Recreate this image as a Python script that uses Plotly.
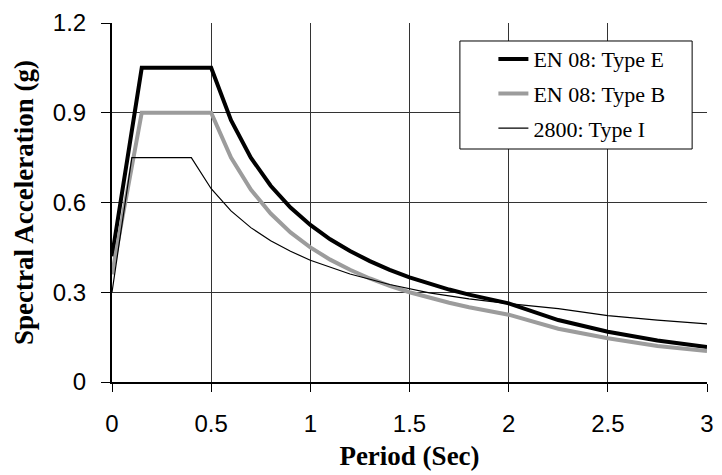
import plotly.graph_objects as go

# Type E (EN 08)
period_e = [0, 0.15, 0.5, 0.6, 0.7, 0.8, 0.9, 1.0, 1.1, 1.2, 1.3, 1.4, 1.5, 1.6, 1.7, 1.8, 1.9, 2.0, 2.25, 2.5, 2.75, 3.0]
sa_e = [0.42, 1.05, 1.05, 0.875, 0.75, 0.656, 0.583, 0.525, 0.477, 0.438, 0.404, 0.375, 0.35, 0.328, 0.309, 0.292, 0.276, 0.263, 0.207, 0.168, 0.139, 0.117]

# Type B (EN 08)
period_b = [0, 0.15, 0.5, 0.6, 0.7, 0.8, 0.9, 1.0, 1.1, 1.2, 1.3, 1.4, 1.5, 1.6, 1.7, 1.8, 1.9, 2.0, 2.25, 2.5, 2.75, 3.0]
sa_b = [0.36, 0.90, 0.90, 0.75, 0.643, 0.563, 0.50, 0.45, 0.409, 0.375, 0.346, 0.321, 0.30, 0.281, 0.265, 0.25, 0.237, 0.225, 0.178, 0.146, 0.12, 0.104]

# 2800 Type I
period_i = [0, 0.1, 0.4, 0.5, 0.6, 0.7, 0.8, 0.9, 1.0, 1.2, 1.4, 1.6, 1.8, 2.0, 2.25, 2.5, 2.75, 3.0]
sa_i = [0.30, 0.75, 0.75, 0.646, 0.572, 0.516, 0.472, 0.437, 0.407, 0.361, 0.326, 0.298, 0.278, 0.262, 0.245, 0.222, 0.207, 0.194]

names = ["EN 08: Type E", "EN 08: Type B", "2800: Type I"]
x_ticks = [0, 0.5, 1, 1.5, 2, 2.5, 3]
x_tick_text = ["0", "0.5", "1", "1.5", "2", "2.5", "3"]
y_ticks = [0, 0.3, 0.6, 0.9, 1.2]
y_tick_text = ["0", "0.3", "0.6", "0.9", "1.2"]

fig = go.Figure()
fig.add_trace(go.Scatter(x=period_e, y=sa_e, mode="lines", name=names[0],
                         line=dict(color="black", width=4), legendgroup="a"))
fig.add_trace(go.Scatter(x=period_b, y=sa_b, mode="lines", name=names[1],
                         line=dict(color="#9c9c9c", width=4), legendgroup="b"))
fig.add_trace(go.Scatter(x=period_i, y=sa_i, mode="lines", name=names[2],
                         line=dict(color="black", width=1.2), legendgroup="c"))

# legend frame
fig.add_shape(type="rect", xref="paper", yref="paper",
              x0=0.5847, x1=0.975, y0=0.649, y1=0.9499,
              line=dict(color="black", width=1), fillcolor="white", layer="above")

fig.update_layout(
    width=722, height=475,
    margin=dict(l=112, r=8, t=23, b=93),
    paper_bgcolor="white", plot_bgcolor="white",
    showlegend=True,
    legend=dict(x=0.641, xanchor="left", y=0.958, yanchor="top",
                bgcolor="rgba(0,0,0,0)", borderwidth=0,
                font=dict(family="Liberation Serif", size=22, color="black"),
                tracegroupgap=3, traceorder="grouped"),
    xaxis=dict(range=[0, 3], tickvals=x_ticks, ticktext=x_tick_text,
               showgrid=True, gridcolor="#333333", gridwidth=1,
               showline=True, linecolor="black", linewidth=2,
               ticks="outside", ticklen=8, tickcolor="black", tickwidth=1,
               zeroline=False, ticklabelstandoff=11,
               tickfont=dict(family="Liberation Sans", size=24, color="black"),
               title=dict(text="Period (Sec)", standoff=10,
                          font=dict(family="Liberation Serif", size=27, color="black", weight="bold"))),
    yaxis=dict(range=[0, 1.2], tickvals=y_ticks, ticktext=y_tick_text,
               showgrid=True, gridcolor="#333333", gridwidth=1,
               showline=True, linecolor="black", linewidth=2,
               ticks="outside", ticklen=9, tickcolor="black", tickwidth=1,
               zeroline=False, ticklabelstandoff=10,
               tickfont=dict(family="Liberation Sans", size=24, color="black"),
               title=dict(text="Spectral Acceleration (g)", standoff=11,
                          font=dict(family="Liberation Serif", size=27, color="black", weight="bold"))),
)

fig.write_html("out.html")
